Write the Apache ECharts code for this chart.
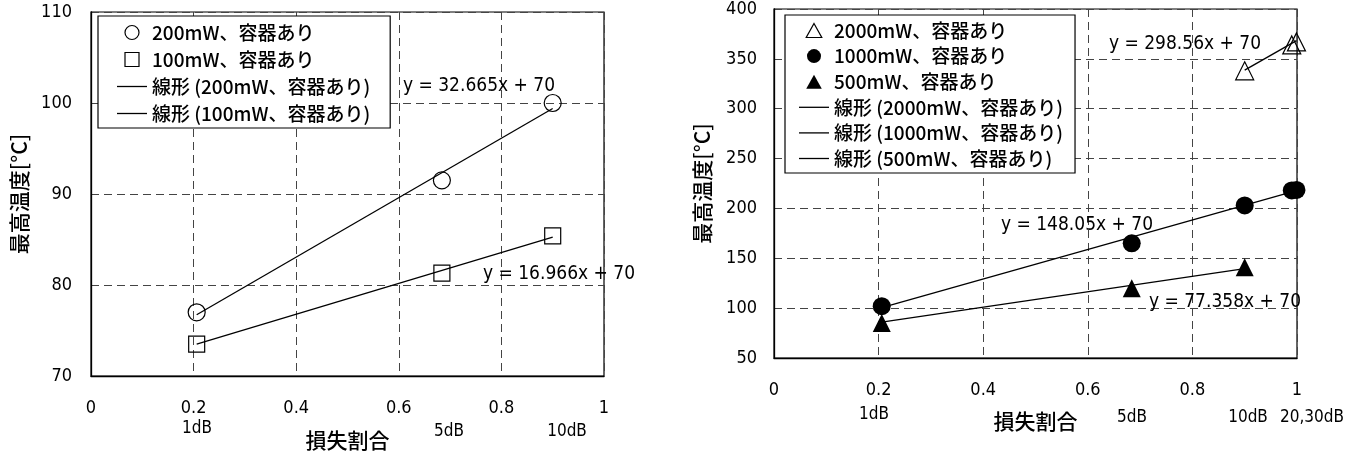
<!DOCTYPE html>
<html>
<head>
<meta charset="utf-8">
<script src="https://cdn.jsdelivr.net/npm/echarts@6/dist/echarts.min.js"></script>
<style>
  html, body { margin: 0; padding: 0; background: #fff; }
  #chart { width: 1360px; height: 456px; }
</style>
</head>
<body>
<div id="chart"></div>
<script>
// Loss ratio for each attenuation step (1dB, 5dB, 10dB, 20dB, 30dB)
const lossLow = [0.206, 0.684, 0.9];
const lossHigh = [0.9, 0.99, 0.999];
const lossAll = [0.206, 0.684, 0.9, 0.99, 0.999];

// Peak temperatures [°C], vessel present
const temp200mW = [77.0, 91.5, 100.0];
const temp100mW = [73.5, 81.3, 85.4];
const temp2000mW = [338, 364, 367];
const temp1000mW = [102, 165, 203, 218, 218.5];
const temp500mW = [85, 120, 141];

// Linear fits, intercept fixed at 70
const fitIntercept = 70;
const slope200mW = 32.665;
const slope100mW = 16.966;
const slope2000mW = 298.56;
const slope1000mW = 148.05;
const slope500mW = 77.358;

// Attenuation labels under the x axis
const dbLabelsLeft = ['1dB', '5dB', '10dB'];
const dbLabelsRight = ['1dB', '5dB', '10dB', '20,30dB'];

const names = {
  s200: '200mW、容器あり',
  s100: '100mW、容器あり',
  f200: '線形 (200mW、容器あり)',
  f100: '線形 (100mW、容器あり)',
  s2000: '2000mW、容器あり',
  s1000: '1000mW、容器あり',
  s500: '500mW、容器あり',
  f2000: '線形 (2000mW、容器あり)',
  f1000: '線形 (1000mW、容器あり)',
  f500: '線形 (500mW、容器あり)'
};

const NUM_FONT = "'DejaVu Sans Condensed', 'Noto Sans CJK JP', sans-serif";
const JP_FONT = "'Noto Sans CJK JP', sans-serif";

function pairs(xs, ys) { return xs.map((x, i) => [x, ys[i]]); }
function fitLine(xs, slope) {
  const lo = Math.min(...xs), hi = Math.max(...xs);
  return [[lo, slope * lo + fitIntercept], [hi, slope * hi + fitIntercept]];
}

const hollow = { color: 'rgba(0,0,0,0)', borderColor: '#000', borderWidth: 1.2, opacity: 1 };
const solid = { color: '#000', borderColor: '#000', borderWidth: 0, opacity: 1 };

function scatter(name, idx, xs, ys, symbol, size, style) {
  return {
    type: 'scatter', name, xAxisIndex: idx, yAxisIndex: idx,
    data: pairs(xs, ys), symbol, symbolSize: size, itemStyle: style,
    silent: true, z: 3
  };
}
function trend(name, idx, xs, slope) {
  return {
    type: 'line', name, xAxisIndex: idx, yAxisIndex: idx,
    data: fitLine(xs, slope), symbol: 'none',
    lineStyle: { color: '#000', width: 1.3 }, itemStyle: { color: '#000' },
    silent: true, z: 2
  };
}

const LINE_ICON = 'path://M0,0H30V1.3H0Z';
const SQUARE_ICON = 'path://M0,0H10V10H0Z';
const TRI_ICON = 'path://M5,0L10,9L0,9Z';

function xAxis(idx) {
  return {
    type: 'value', gridIndex: idx, min: 0, max: 1, interval: 0.2,
    name: '損失割合', nameLocation: 'middle', nameGap: idx === 0 ? 54 : 53,
    nameTextStyle: { fontFamily: JP_FONT, fontSize: 21, fontWeight: 500, color: '#000' },
    axisLine: { lineStyle: { color: '#000', width: 1.3 } },
    axisTick: { show: false },
    axisLabel: { color: '#000', fontFamily: NUM_FONT, fontSize: 18, margin: 23 },
    splitLine: { show: true, lineStyle: { color: '#444', width: 1, type: [8, 5] } }
  };
}
function yAxis(idx, min, max, interval) {
  return {
    type: 'value', gridIndex: idx, min, max, interval,
    name: '最高温度[°C]', nameLocation: 'middle', nameGap: 61,
    nameTextStyle: { fontFamily: JP_FONT, fontSize: 21, fontWeight: 500, color: '#000' },
    axisLine: { show: true, lineStyle: { color: '#000', width: 1.3 } },
    axisTick: { show: false },
    axisLabel: { color: '#000', fontFamily: NUM_FONT, fontSize: 18, margin: idx === 0 ? 19 : 17 },
    splitLine: { show: true, lineStyle: { color: '#444', width: 1, type: [8, 5] } }
  };
}

const legendBase = {
  orient: 'vertical', itemWidth: 30, itemHeight: 14, itemGap: 8,
  backgroundColor: '#fff', borderColor: '#000', borderWidth: 1.2,
  selectedMode: false,
  textStyle: { fontFamily: JP_FONT, fontSize: 19, fontWeight: 500, lineHeight: 19, color: '#000' }
};

function textItem(text, x, y, size) {
  return {
    type: 'text', x, y, silent: true, z: 10,
    style: {
      text, fill: '#000', fontSize: size, fontFamily: NUM_FONT,
      align: 'center', verticalAlign: 'middle',
      textAlign: 'center', textVerticalAlign: 'middle'
    }
  };
}

const dbPosLeft = [[197, 429], [449, 432], [567, 432]];
const dbPosRight = [[874, 415], [1132, 418], [1248, 418], [1312, 418]];

const graphics = [
  textItem('y = ' + slope200mW + 'x + ' + fitIntercept, 479, 86, 19),
  textItem('y = ' + slope100mW + 'x + ' + fitIntercept, 559, 274, 19),
  textItem('y = ' + slope2000mW + 'x + ' + fitIntercept, 1185, 44, 19),
  textItem('y = ' + slope1000mW + 'x + ' + fitIntercept, 1077, 225, 19),
  textItem('y = ' + slope500mW + 'x + ' + fitIntercept, 1225, 302, 19)
];
dbLabelsLeft.forEach((t, i) => graphics.push(textItem(t, dbPosLeft[i][0], dbPosLeft[i][1], 17)));
dbLabelsRight.forEach((t, i) => graphics.push(textItem(t, dbPosRight[i][0], dbPosRight[i][1], 17)));

const option = {
  backgroundColor: '#fff',
  animation: false,
  grid: [
    { left: 91, top: 12, width: 513, height: 364, show: true, borderColor: '#000', borderWidth: 1.2, backgroundColor: 'transparent' },
    { left: 774, top: 7, width: 523, height: 351, show: true, borderColor: '#000', borderWidth: 1.2, backgroundColor: 'transparent' }
  ],
  xAxis: [xAxis(0), xAxis(1)],
  yAxis: [yAxis(0, 70, 110, 10), yAxis(1, 50, 400, 50)],
  legend: [
    Object.assign({}, legendBase, {
      left: 98, top: 16, padding: [7, 20, 5, 19], itemGap: 8,
      data: [
        { name: names.s200, icon: 'circle', itemStyle: { borderWidth: 1.2 } },
        { name: names.s100, icon: SQUARE_ICON, itemStyle: { borderWidth: 1.2 } },
        { name: names.f200, icon: LINE_ICON, itemStyle: { borderWidth: 0 } },
        { name: names.f100, icon: LINE_ICON, itemStyle: { borderWidth: 0 } }
      ]
    }),
    Object.assign({}, legendBase, {
      left: 785, top: 15, padding: [6, 12, 5, 14], itemGap: 6.6,
      data: [
        { name: names.s2000, icon: TRI_ICON, itemStyle: { borderWidth: 1.2 } },
        { name: names.s1000, icon: 'circle', itemStyle: { borderWidth: 0 } },
        { name: names.s500, icon: TRI_ICON, itemStyle: { borderWidth: 0 } },
        { name: names.f2000, icon: LINE_ICON, itemStyle: { borderWidth: 0 } },
        { name: names.f1000, icon: LINE_ICON, itemStyle: { borderWidth: 0 } },
        { name: names.f500, icon: LINE_ICON, itemStyle: { borderWidth: 0 } }
      ]
    })
  ],
  series: [
    scatter(names.s200, 0, lossLow, temp200mW, 'circle', 17, hollow),
    scatter(names.s100, 0, lossLow, temp100mW, 'rect', 16, hollow),
    trend(names.f200, 0, lossLow, slope200mW),
    trend(names.f100, 0, lossLow, slope100mW),
    scatter(names.s2000, 1, lossHigh, temp2000mW, 'triangle', 18, hollow),
    scatter(names.s1000, 1, lossAll, temp1000mW, 'circle', 18, solid),
    scatter(names.s500, 1, lossLow, temp500mW, 'triangle', 18, solid),
    trend(names.f2000, 1, lossHigh, slope2000mW),
    trend(names.f1000, 1, lossAll, slope1000mW),
    trend(names.f500, 1, lossLow, slope500mW)
  ],
  graphic: graphics
};

const chart = echarts.init(document.getElementById('chart'), null, { renderer: 'canvas' });
chart.setOption(option);
</script>
</body>
</html>
